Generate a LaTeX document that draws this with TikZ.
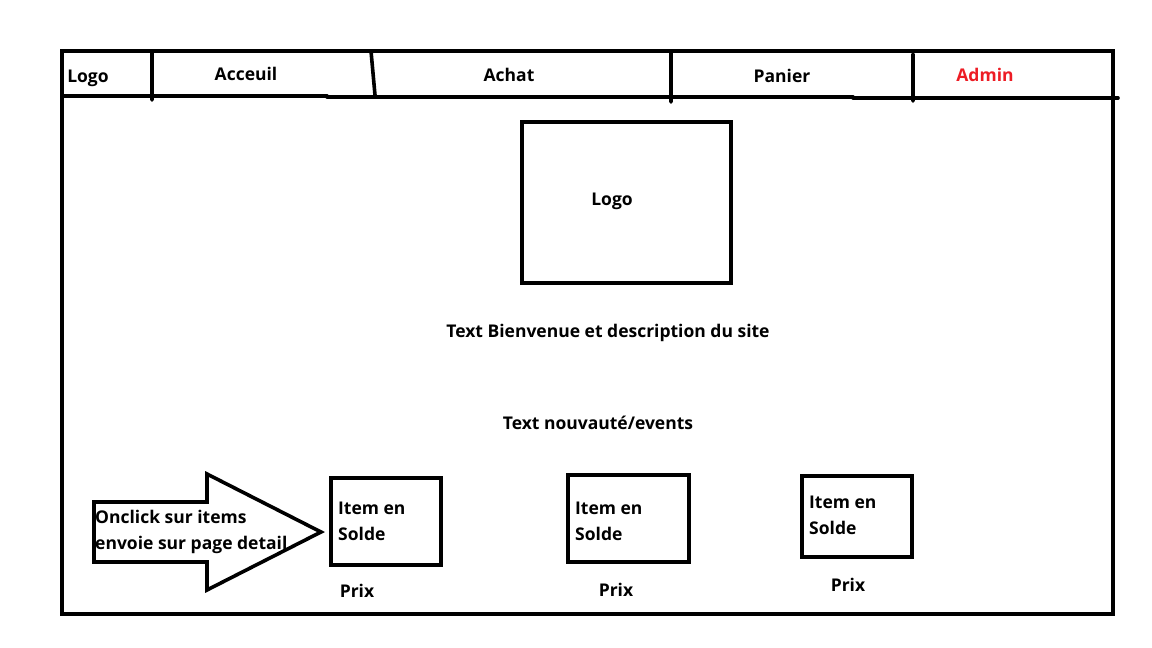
\documentclass[tikz,border=0pt]{standalone}
\usepackage{fontspec}
\setmainfont{Open Sans}
\definecolor{adminred}{RGB}{237,28,36}
\tikzset{trait/.style={line width=3.6pt,line cap=round,line join=miter},
	lbl/.style={font=\fontsize{17.5}{26}\selectfont\bfseries,inner sep=0pt},
	itembox/.style={trait,draw},
	itemlbl/.style={lbl,align=left,anchor=north west}}
\begin{document}
\begin{tikzpicture}[x=1pt,y=-1pt]%maquette accueil
	\useasboundingbox (0,0) rectangle (1152,648);
	\draw[trait] (62,51) rectangle (1113,614);
	\draw[trait] (62,96)--(327,96) (327,97)--(853,97) (853,98)--(1118,98); % barre du menu
	\draw[trait] (152,51)--(152,100) (371,51)--(375,95) (671,51)--(671,102) (913,54)--(913,101);
	\node[lbl] (logomenu) at (88,78) {Logo};
	\node[lbl] (acceuil) at (246,74) {Acceuil};
	\node[lbl] (achat) at (509,75) {Achat};
	\node[lbl] (panier) at (782,76) {Panier};
	\node[lbl,text=adminred] (admin) at (985,75) {Admin};
	\draw[trait] (522,122) rectangle (731,283);
	\node[lbl] (logo) at (612,201) {Logo};
	\node[lbl] (bienvenue) at (608,333) {Text Bienvenue et description du site};
	\node[lbl] (events) at (598,423) {Text nouvauté/events};
	% fleche
	\draw[trait] (94,502)--(207,502)--(207,474)--(321,532)--(207,590)--(207,562)--(94,562)--cycle;
	\node[itemlbl] (onclick) at (95,510) {Onclick sur items\\envoie sur page detail};
	% items en solde
	\foreach \n/\xa/\ya/\xb/\yb/\ty/\px/\py in {1/331/478/441/565/502/357/591, 2/568/475/689/562/502/616/590, 3/802/476/912/557/496/848/585}{
		\draw[itembox] (\xa,\ya) rectangle (\xb,\yb);
		\node[itemlbl] (item\n) at (\xa+7,\ty) {Item en\\Solde};
		\node[lbl] (prix\n) at (\px,\py) {Prix};
	}
\end{tikzpicture}
\end{document}
